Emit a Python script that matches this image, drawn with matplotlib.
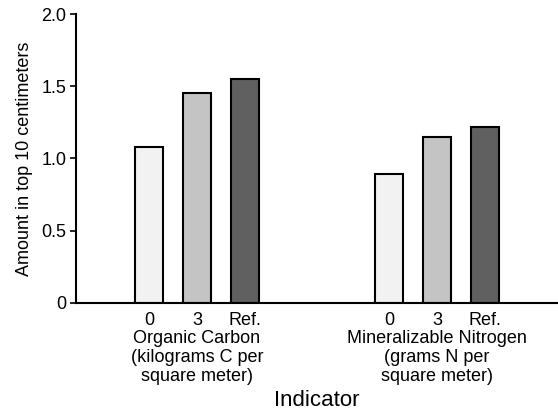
import matplotlib
matplotlib.use("Agg")
from matplotlib import pyplot
import matplotlib.transforms as mtransforms

matplotlib.rcParams['font.family'] = ['Liberation Sans', 'DejaVu Sans']
matplotlib.rcParams['font.size'] = 13

treatments = ['0', '3', 'Ref.']
indicators = ['Organic Carbon\n(kilograms C per\nsquare meter)',
              'Mineralizable Nitrogen\n(grams N per\nsquare meter)']
values = [[1.08, 1.45, 1.55],
          [0.89, 1.15, 1.22]]
colors = ['#f2f2f2', '#c4c4c4', '#606060']

fig = pyplot.figure(figsize=[5.58, 4.13], dpi=100)
ax = fig.add_axes([0.1362, 0.267, 0.8638, 0.699])

positions = []
labels = []
for g, (name, vals) in enumerate(zip(indicators, values)):
    xs = [g * 5 + i for i in range(len(treatments))]
    ax.bar(xs, vals, width=0.6, color=colors, edgecolor='black', linewidth=1.5)
    positions += xs
    labels += treatments
    trans = mtransforms.blended_transform_factory(ax.transData, ax.transAxes)
    ax.text(xs[1], -0.095, name, transform=trans, ha='center', va='top',
            linespacing=1.16)

ax.set_xticks(positions)
ax.set_xticklabels(labels)
ax.tick_params(axis='x', length=0, pad=6.5)
ax.tick_params(axis='y', length=4, width=1.2, direction='out', pad=3)
ax.set_xlim(-1.52, 8.52)
ax.set_ylim(0, 2.0)
ax.set_yticks([0, 0.5, 1.0, 1.5, 2.0])
ax.set_yticklabels(['0', '0.5', '1.0', '1.5', '2.0'])
ax.spines['top'].set_visible(False)
ax.spines['right'].set_visible(False)
ax.spines['left'].set_linewidth(1.5)
ax.spines['bottom'].set_linewidth(1.5)
ax.set_ylabel('Amount in top 10 centimeters', labelpad=6)
ax.set_xlabel('Indicator', fontsize=16)
ax.xaxis.set_label_coords(0.5, -0.303)

fig.savefig('out.png', dpi=100)
